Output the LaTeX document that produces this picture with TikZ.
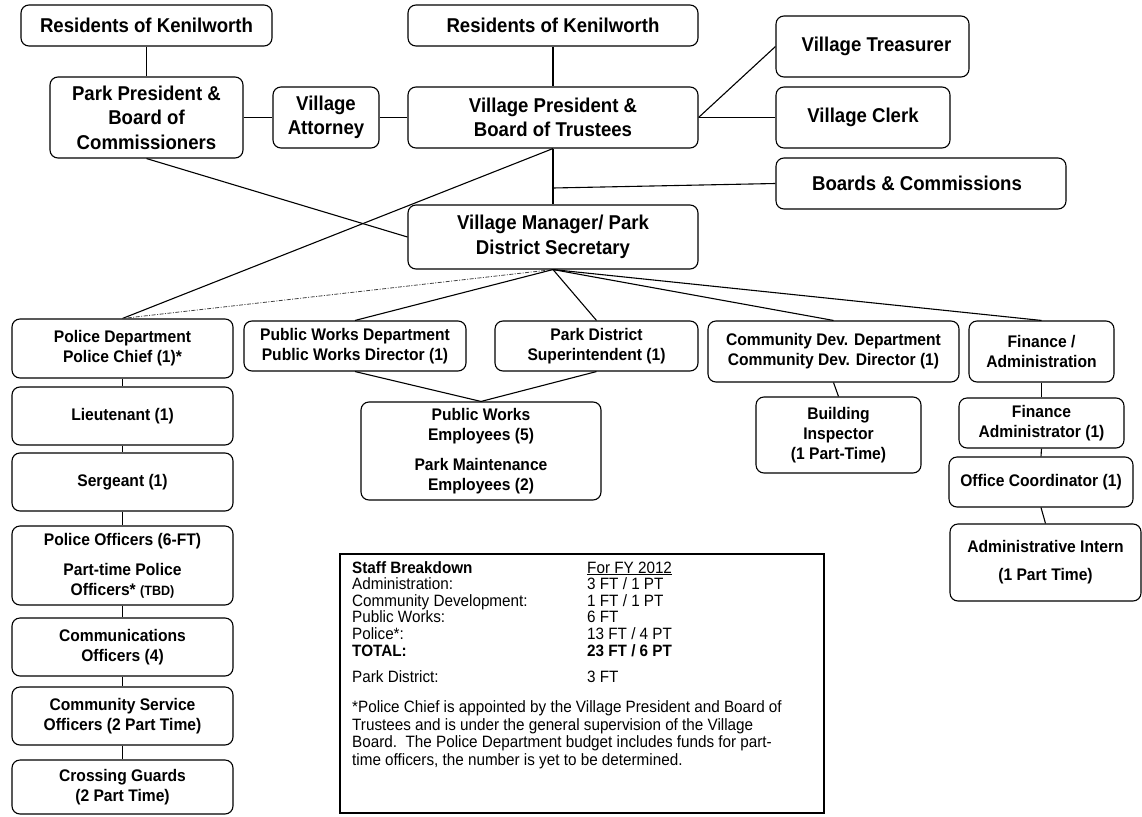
\documentclass[tikz,border=0pt]{standalone}
\usepackage{fontspec}
\setmainfont{Liberation Sans}[FakeStretch=0.93]
\tikzset{
  box/.style={draw, rounded corners=8pt, line width=1.1pt, align=center, inner sep=2pt},
  topbox/.style={box, font=\bfseries\fontsize{20}{24.5}\selectfont},
  midbox/.style={box, font=\bfseries\fontsize{16.8}{20}\selectfont},
  conn/.style={line width=1.1pt},
  dd/.style={line width=0.8pt, black!75, dash pattern=on 4pt off 1.5pt on 1pt off 1.5pt},
}
\newcommand\orgbox[7][]{\node[#1, minimum width={(#5-#3)*1pt}, minimum height={(#6-#4)*1pt}] (#2) at ({(#3+#5)/2},{(#4+#6)/2}) {#7};}
\begin{document}
\begin{tikzpicture}[x=1pt,y=-1pt]
\useasboundingbox (0,0) rectangle (1142,816);
% top level
\orgbox[topbox]{resL}{21}{5}{272}{46}{Residents of Kenilworth}
\orgbox[topbox]{pp}{50}{77}{243}{158}{Park President \&\\Board of\\Commissioners}
\orgbox[topbox]{att}{273}{87}{379}{148}{Village\\Attorney}
\orgbox[topbox]{resM}{408}{5}{698}{46}{Residents of Kenilworth}
\orgbox[topbox]{vp}{408}{87}{698}{148}{Village President \&\\Board of Trustees}
\orgbox[topbox]{vm}{408}{205}{698}{269}{Village Manager/ Park\\District Secretary}
\orgbox[topbox]{treas}{776}{16}{969}{77}{\hspace*{8pt}Village Treasurer}
\orgbox[topbox]{clerk}{776}{87}{950}{148}{Village Clerk}
\orgbox[topbox]{boards}{776}{158}{1066}{209}{Boards \& Commissions\hspace*{8pt}}
% police column
\orgbox[midbox]{pol}{12}{319}{233}{378}{Police Department\\Police Chief (1)*}
\orgbox[midbox]{lt}{12}{387}{233}{445}{Lieutenant (1)}
\orgbox[midbox]{sgt}{12}{453}{233}{511}{\raisebox{3pt}{Sergeant (1)}}
\orgbox[midbox]{po}{12}{526}{233}{605}{Police Officers (6-FT)\\[10pt]Part-time Police\\Officers* {\fontsize{13.5}{20}\selectfont(TBD)}}
\orgbox[midbox]{comm}{12}{618}{233}{676}{Communications\\Officers (4)}
\orgbox[midbox]{cso}{12}{687}{233}{745}{Community Service\\Officers (2 Part Time)}
\orgbox[midbox]{cg}{12}{760}{233}{814}{Crossing Guards\\(2 Part Time)}
% middle departments
\orgbox[midbox]{pwd}{244}{321}{466}{371}{Public Works Department\\Public Works Director (1)}
\orgbox[midbox]{pds}{495}{321}{698}{371}{Park District\\Superintendent (1)}
\orgbox[midbox]{pwe}{361}{402}{601}{500}{Public Works\\Employees (5)\\[10pt]Park Maintenance\\Employees (2)}
\orgbox[midbox]{cdd}{708}{321}{959}{382}{Community Dev. Department\\Community Dev. Director (1)}
\orgbox[midbox]{bi}{756}{397}{921}{473}{Building\\Inspector\\(1 Part-Time)}
% finance column
\orgbox[midbox]{fin}{969}{321}{1114}{382}{Finance /\\Administration}
\orgbox[midbox]{fa}{959}{398}{1124}{448}{Finance\\Administrator (1)}
\orgbox[midbox]{oc}{949}{457}{1133}{507}{Office Coordinator (1)}
\orgbox[midbox]{ai}{950}{524}{1141}{601}{Administrative Intern\\[8pt](1 Part Time)}
% connectors
\coordinate (bj) at (553,188);
\draw[conn] (resL.south) -- (pp.north);
\draw[conn] (pp.east) -- (att.west);
\draw[conn] (att.east) -- (vp.west);
\draw[conn] (resM.south) -- (vp.north);
\draw[conn] (vp.south) -- (vm.north);
\draw[conn] (bj) -- (boards.west);
\draw[conn] (vp.east) -- (clerk.west);
\draw[conn] (vp.east) -- (treas.west);
\draw[conn] (vp.south) -- (pol.north);
\draw[conn] (pp.south) -- (vm.west);
\draw[dd] (vm.south) -- (pol.north);
\draw[conn] (vm.south) -- (pwd.north);
\draw[conn] (vm.south) -- (pds.north);
\draw[conn] (vm.south) -- (cdd.north);
\draw[conn] (vm.south) -- (fin.north);
\draw[conn] (pol.south) -- (lt.north);
\draw[conn] (lt.south) -- (sgt.north);
\draw[conn] (sgt.south) -- (po.north);
\draw[conn] (po.south) -- (comm.north);
\draw[conn] (comm.south) -- (cso.north);
\draw[conn] (cso.south) -- (cg.north);
\draw[conn] (pwd.south) -- (pwe.north);
\draw[conn] (pds.south) -- (pwe.north);
\draw[conn] (cdd.south) -- (bi.north);
\draw[conn] (fin.south) -- (fa.north);
\draw[conn] (fa.south) -- (oc.north);
\draw[conn] (oc.south) -- (ai.north);
% staff breakdown
\draw[line width=1.5pt] (340,554) rectangle (824,813);
\node[anchor=north west, inner sep=0pt, font=\fontsize{16.4}{15.8}\selectfont] (staff) at (352,561) {%
\begin{tabular}{@{}p{235pt}@{}l@{}}
\textbf{Staff Breakdown} & \underline{For FY 2012}\\
Administration: & 3 FT / 1 PT\\
Community Development: & 1 FT / 1 PT\\
Public Works: & 6 FT\\
Police*: & 13 FT / 4 PT\\
\textbf{TOTAL:} & \textbf{23 FT / 6 PT}\\[10pt]
Park District: & 3 FT\\[13pt]
\multicolumn{2}{@{}l@{}}{*Police Chief is appointed by the Village President and Board of}\\[1pt]
\multicolumn{2}{@{}l@{}}{Trustees and is under the general supervision of the Village}\\[1pt]
\multicolumn{2}{@{}l@{}}{Board.\ \ The Police Department budget includes funds for part-}\\[1pt]
\multicolumn{2}{@{}l@{}}{time officers, the number is yet to be determined.}
\end{tabular}};
\end{tikzpicture}
\end{document}
